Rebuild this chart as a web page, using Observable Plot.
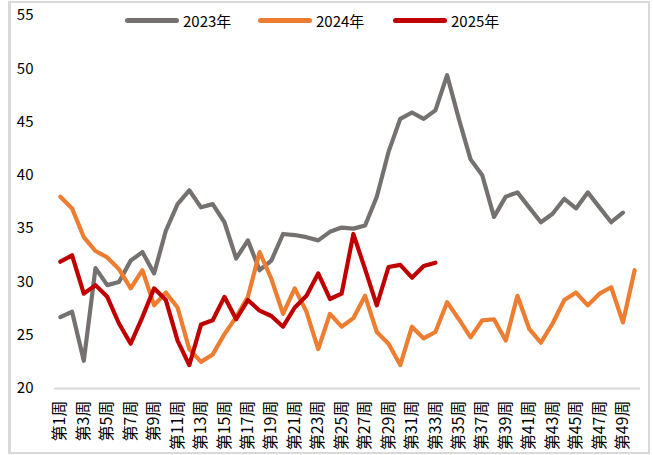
<!DOCTYPE html>
<html>
<head>
<meta charset="utf-8">
<script src="https://cdn.jsdelivr.net/npm/d3@7"></script>
<script src="https://cdn.jsdelivr.net/npm/@observablehq/plot@0.6"></script>
<style>
  body { margin: 0; background: #fff; }
  #wrap { position: relative; width: 653px; height: 455px; font-family: "Noto Sans CJK SC", "Noto Sans", sans-serif; overflow: hidden; }
  #frame { position: absolute; left: 8px; top: 1px; width: 642px; height: 453px; box-sizing: border-box; border: 2px solid #d9d9d9; border-left-width: 3px; pointer-events: none; }
  #chart { position: absolute; left: 0; top: 0; }
  #chart g[aria-label="x-axis tick label"] { font-size: 16px; }
  #chart g[aria-label="y-axis tick label"] { font-size: 15px; }
  .leg { position: absolute; top: 10px; height: 20px; display: flex; align-items: center; font-size: 15px; color: #000; }
  .leg span.sw { display: inline-block; width: 54px; height: 5px; border-radius: 3px; margin-right: 4px; }
</style>
</head>
<body>
<div id="wrap">
  <div id="chart"></div>
  <div id="legend"></div>
  <div id="frame"></div>
</div>
<script>
// ---- data ----
const weeks = ["第1周","第2周","第3周","第4周","第5周","第6周","第7周","第8周","第9周","第10周",
  "第11周","第12周","第13周","第14周","第15周","第16周","第17周","第18周","第19周","第20周",
  "第21周","第22周","第23周","第24周","第25周","第26周","第27周","第28周","第29周","第30周",
  "第31周","第32周","第33周","第34周","第35周","第36周","第37周","第38周","第39周","第40周",
  "第41周","第42周","第43周","第44周","第45周","第46周","第47周","第48周","第49周","第50周"];
const tickWeeks = ["第1周","第3周","第5周","第7周","第9周","第11周","第13周","第15周","第17周","第19周",
  "第21周","第23周","第25周","第27周","第29周","第31周","第33周","第35周","第37周","第39周",
  "第41周","第43周","第45周","第47周","第49周"];
const yTicks = [20, 25, 30, 35, 40, 45, 50, 55];

const series = ["2023年", "2024年", "2025年"];
const colors = ["#767171", "#ED7D31", "#C00000"];

const v2023 = [26.7, 27.2, 22.6, 31.3, 29.7, 30.0, 32.0, 32.8, 30.8, 34.8,
  37.3, 38.6, 37.0, 37.3, 35.6, 32.2, 33.9, 31.1, 32.0, 34.5,
  34.4, 34.2, 33.9, 34.7, 35.1, 35.0, 35.3, 38.0, 42.2, 45.3,
  45.9, 45.3, 46.1, 49.4, 45.3, 41.5, 40.0, 36.1, 38.0, 38.4,
  37.0, 35.6, 36.4, 37.8, 36.9, 38.4, 37.0, 35.6, 36.5];
const v2024 = [38.0, 36.9, 34.2, 32.9, 32.3, 31.2, 29.4, 31.1, 27.8, 29.0,
  27.6, 23.7, 22.5, 23.2, 25.1, 26.7, 28.6, 32.8, 30.3, 27.0,
  29.4, 27.2, 23.7, 27.0, 25.8, 26.6, 28.7, 25.3, 24.2, 22.2,
  25.8, 24.7, 25.3, 28.1, 26.5, 24.8, 26.4, 26.5, 24.5, 28.7,
  25.6, 24.3, 26.1, 28.3, 29.0, 27.8, 28.9, 29.5, 26.2, 31.1];
const v2025 = [31.9, 32.5, 28.9, 29.7, 28.6, 26.1, 24.2, 26.7, 29.4, 28.3,
  24.5, 22.2, 26.0, 26.4, 28.6, 26.5, 28.3, 27.3, 26.8, 25.8,
  27.6, 28.7, 30.8, 28.4, 28.9, 34.5, 31.2, 27.8, 31.4, 31.6,
  30.4, 31.5, 31.8];

const values = [v2023, v2024, v2025];
const rows = values.map((arr, s) => arr.map((v, i) => ({week: weeks[i], value: v, series: series[s]})));

const font = '"Noto Sans CJK SC", "Noto Sans", sans-serif';

const chart = Plot.plot({
  width: 653,
  height: 455,
  marginLeft: 54,
  marginRight: 13,
  marginTop: 15,
  marginBottom: 67,
  style: { fontFamily: font, fontSize: "15px", color: "#000", background: "transparent", overflow: "visible" },
  x: { type: "point", domain: weeks, padding: 0.5, label: null },
  y: { domain: [20, 55], label: null },
  marks: [
    Plot.axisY({ ticks: yTicks, tickSize: 0, tickPadding: 21, fontSize: 15, label: null, fill: "#000" }),
    Plot.axisX({ ticks: tickWeeks, tickSize: 0, tickRotate: -90, tickPadding: 12, fontSize: 16, label: null, fill: "#000" }),
    Plot.ruleY([20], { stroke: "#d9d9d9", strokeWidth: 2 }),
    ...rows.map((r, s) => Plot.line(r, {
      x: "week", y: "value",
      stroke: colors[s], strokeWidth: 4.2,
      strokeLinejoin: "round", strokeLinecap: "round"
    }))
  ]
});
document.getElementById("chart").appendChild(chart);

// legend
const legLeft = [125, 258, 393];
const legend = document.getElementById("legend");
series.forEach((name, i) => {
  const d = document.createElement("div");
  d.className = "leg";
  d.style.left = legLeft[i] + "px";
  const sw = document.createElement("span");
  sw.className = "sw";
  sw.style.background = colors[i];
  const t = document.createElement("span");
  t.textContent = name;
  d.appendChild(sw);
  d.appendChild(t);
  legend.appendChild(d);
});
</script>
</body>
</html>
